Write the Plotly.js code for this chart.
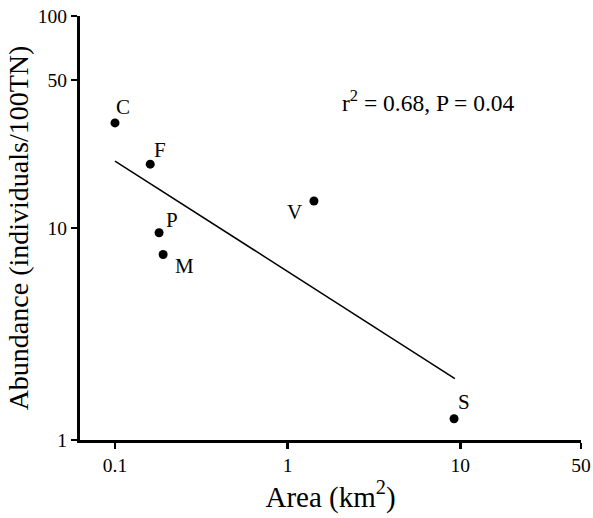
<!DOCTYPE html>
<html><head><meta charset="utf-8">
<script src="https://cdn.plot.ly/plotly-3.0.1.min.js"></script>
<style>html,body{margin:0;padding:0;background:#fff}#chart{width:593px;height:518px}</style>
</head><body><div id="chart"></div>
<script>
const sites = ["C","F","P","M","V","S"];
const area = [0.1, 0.16, 0.18, 0.19, 1.42, 9.2];
const abundance = [31.3, 20, 9.5, 7.5, 13.4, 1.26];
const labelDx = [8, 10, 13, 21, -19, 10];
const labelDy = [16, 14, 13, -12, -11, 17];
const fitX = [0.1, 9.3];
const fitY = [20.7, 1.95];
const xTicks = [0.1, 1, 10, 50];
const xTickText = ["0.1","1","10","50"];
const yTicks = [1, 10, 50, 100];
const yTickText = ["1","10","50","100"];
const statText = "r<sup>2</sup> = 0.68, P = 0.04";

const serif = "Liberation Serif, Times New Roman, serif";
const data = [
  {x: fitX, y: fitY, mode: "lines", type: "scatter", line: {color: "#000", width: 1.5}, hoverinfo: "skip"},
  {x: area, y: abundance, mode: "markers", type: "scatter",
   marker: {color: "#000", size: 9}}
];
const annotations = sites.map((s, i) => ({
  x: Math.log10(area[i]), y: Math.log10(abundance[i]), xref: "x", yref: "y",
  text: s, showarrow: false, xshift: labelDx[i], yshift: labelDy[i],
  font: {size: 21, family: serif, color: "#000"}, xanchor: "center", yanchor: "middle"
}));
annotations.push({xref: "paper", yref: "paper", x: 0.696, y: 0.8, text: statText, showarrow: false,
    font: {size: 23.5, family: serif, color: "#000"}, xanchor: "center", yanchor: "middle"});
const layout = {
  width: 593, height: 518,
  margin: {l: 80, r: 12, t: 16, b: 78},
  paper_bgcolor: "#fff", plot_bgcolor: "#fff",
  showlegend: false,
  font: {family: serif, color: "#000"},
  xaxis: {type: "log", range: [Math.log10(0.0627), Math.log10(50)], tickvals: xTicks, ticktext: xTickText,
    showgrid: false, zeroline: false, showline: true, linewidth: 3, linecolor: "#000",
    ticks: "outside", ticklen: 6, tickwidth: 2.5, tickcolor: "#000", tickfont: {size: 19.5, family: serif},
    title: {text: "Area (km<sup>2</sup>)", font: {size: 29, family: serif}, standoff: 11}},
  yaxis: {type: "log", range: [0, 2], tickvals: yTicks, ticktext: yTickText,
    showgrid: false, zeroline: false, showline: true, linewidth: 3, linecolor: "#000",
    ticks: "outside", ticklen: 6, tickwidth: 2.5, tickcolor: "#000", tickfont: {size: 19.5, family: serif},
    title: {text: "Abundance (individuals/100TN)", font: {size: 28, family: serif}, standoff: 2}},
  annotations: annotations
};
Plotly.newPlot("chart", data, layout, {displayModeBar: false, staticPlot: true});
</script></body></html>
